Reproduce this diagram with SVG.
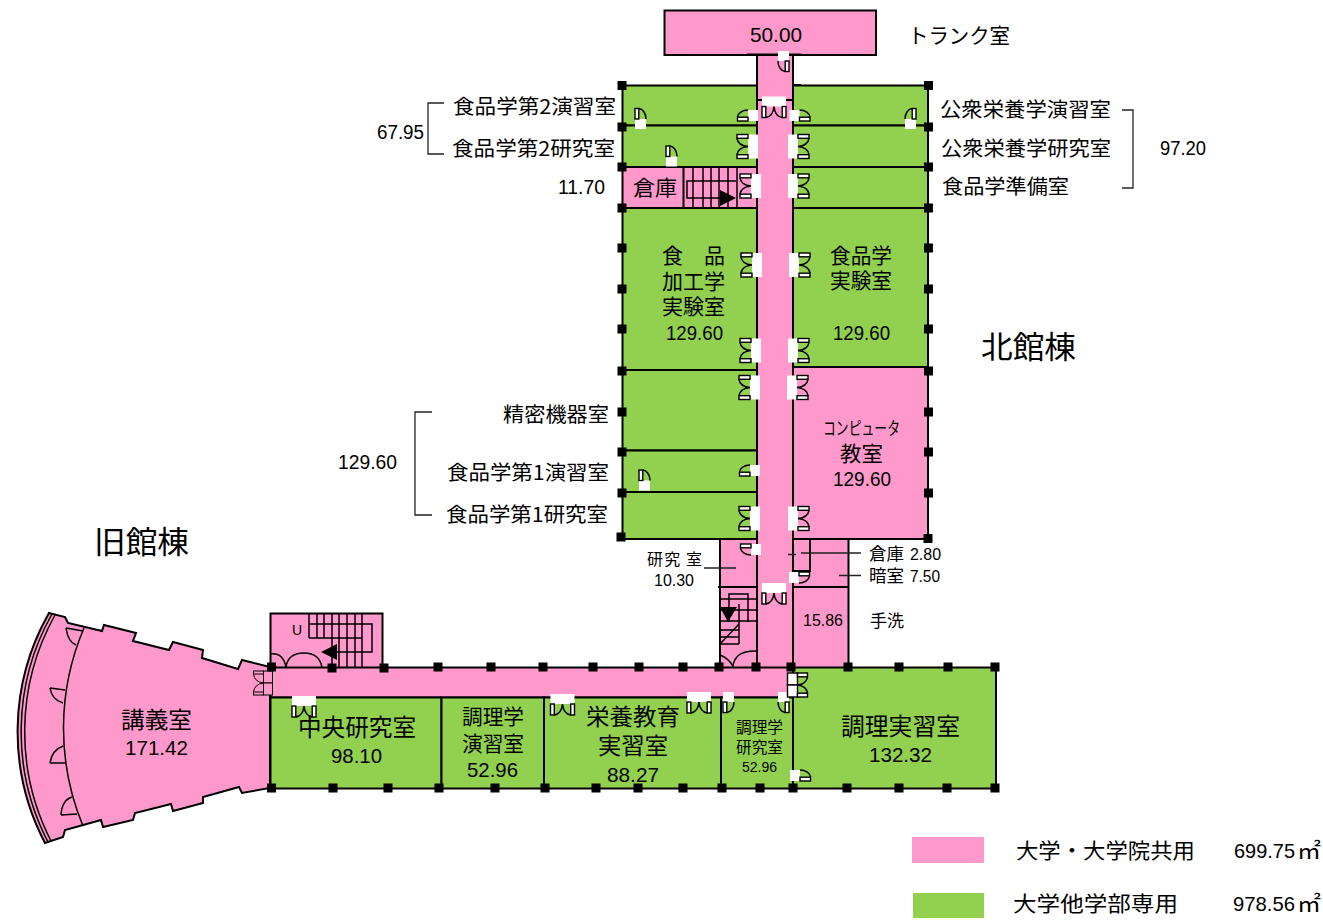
<svg xmlns="http://www.w3.org/2000/svg" width="1323" height="923" viewBox="0 0 1323 923">
<style>
.p{fill:#ff99cc;stroke:#000;stroke-width:2}
.g{fill:#92d050;stroke:#000;stroke-width:2}
.l{fill:none;stroke:#000;stroke-width:2}
.t{fill:none;stroke:#000;stroke-width:1.500}
.c{fill:none;stroke:#222;stroke-width:1.300}
.a{fill:#000;stroke:none}
.w{fill:#fff;stroke:none}
.lf{fill:#fff;stroke:#000;stroke-width:1.400}
.o{fill:none;stroke:#000;stroke-width:1.500}
.pf{fill:#ff99cc;stroke:#000;stroke-width:1}
text{fill:#000;font-family:"Noto Sans CJK JP","Liberation Sans",sans-serif;font-size:20px}
.n{font-family:"Liberation Sans","Noto Sans CJK JP",sans-serif;font-size:21px}
</style>
<defs>
<g id="dd"><rect class="w" x="-5" y="-12" width="10" height="24"/><rect class="lf" x="-16" y="-12" width="11" height="3.800"/><rect class="lf" x="-16" y="8.200" width="11" height="3.800"/><path class="o" d="M-16-8.200Q-15-1-5 0Q-15 1-16 8.200"/></g>
<g id="ddb"><rect class="lf" x="-5" y="-12" width="10" height="12"/><rect class="lf" x="-5" y="0" width="10" height="12"/><rect class="lf" x="-15" y="-12" width="10" height="3.800"/><rect class="lf" x="-15" y="8.200" width="10" height="3.800"/><path class="o" d="M-15-8.200Q-14-1-5 0Q-14 1-15 8.200"/></g>
<g id="ddp"><rect class="pf" x="-5" y="-12" width="9" height="12"/><rect class="pf" x="-5" y="0" width="9" height="12"/><rect class="pf" x="-15" y="-12" width="10" height="3"/><rect class="pf" x="-15" y="9" width="10" height="3"/><path class="o" style="stroke-width:1" d="M-15-9Q-14-1-5 0Q-14 1-15 9"/></g>
<g id="ds"><rect class="w" x="-5" y="-11" width="10" height="11"/><rect class="lf" x="-15.500" y="-3.800" width="10.500" height="3.800"/><path class="o" d="M-15.500-3.800A10.500 7.500 0 0 1-5-11"/></g>
<rect id="q" class="a" x="-4.500" y="-4.500" width="9" height="9"/>
</defs>

<g id="room-trunk"><rect class="p" x="664.500" y="10.500" width="211.500" height="44.500"/><text class="n" x="750" y="42" textLength="52" lengthAdjust="spacingAndGlyphs">50.00</text><text x="908" y="43" style="font-size:21px" textLength="102" lengthAdjust="spacingAndGlyphs">トランク室</text></g>

<g id="room-north-west-1"><rect class="g" x="622.500" y="85.500" width="134.500" height="40"/><text x="453" y="114" textLength="163" lengthAdjust="spacingAndGlyphs">食品学第2演習室</text></g>
<g id="room-north-west-2"><rect class="g" x="622.500" y="125.500" width="134.500" height="41.500"/><text x="452" y="156" textLength="163" lengthAdjust="spacingAndGlyphs">食品学第2研究室</text></g>
<g id="room-storage"><rect class="p" x="622.500" y="167" width="134.500" height="41"/><line class="l" x1="683.500" y1="167" x2="683.500" y2="208"/><text x="633" y="195" style="font-size:21px" textLength="44" lengthAdjust="spacingAndGlyphs">倉庫</text>
<path class="t" d="M693 167V208M703 167V208M711 167V208M719 167V208M728 167V208M737 167V208M736 181H687V198H722"/><path class="a" d="M720 190L736 198L720 206Z"/></g>
<g id="room-north-east-1"><rect class="g" x="793" y="85.500" width="135" height="40"/><text x="940" y="117" textLength="171" lengthAdjust="spacingAndGlyphs">公衆栄養学演習室</text></g>
<g id="room-north-east-2"><rect class="g" x="793" y="125.500" width="135" height="41.500"/><text x="941" y="156" textLength="170" lengthAdjust="spacingAndGlyphs">公衆栄養学研究室</text></g>
<g id="room-north-east-3"><rect class="g" x="793" y="167" width="135" height="41"/><text x="942" y="194" textLength="127" lengthAdjust="spacingAndGlyphs">食品学準備室</text></g>
<g id="room-food-processing"><rect class="g" x="622.500" y="208" width="134.500" height="162"/><text x="662" y="263" style="font-size:21px">食</text><text x="704" y="263" style="font-size:21px">品</text><text x="662" y="289" style="font-size:21px" textLength="63" lengthAdjust="spacingAndGlyphs">加工学</text><text x="662" y="314" style="font-size:21px" textLength="63" lengthAdjust="spacingAndGlyphs">実験室</text><text class="n" x="666" y="340" textLength="57" lengthAdjust="spacingAndGlyphs">129.60</text></g>
<g id="room-food-lab"><rect class="g" x="793" y="208" width="135" height="159"/><text x="830" y="263" style="font-size:21px" textLength="62" lengthAdjust="spacingAndGlyphs">食品学</text><text x="830" y="288" style="font-size:21px" textLength="62" lengthAdjust="spacingAndGlyphs">実験室</text><text class="n" x="833" y="340" textLength="57" lengthAdjust="spacingAndGlyphs">129.60</text></g>
<g id="room-precision"><rect class="g" x="622.500" y="370" width="134.500" height="80.500"/><text x="503" y="422" textLength="106" lengthAdjust="spacingAndGlyphs">精密機器室</text></g>
<g id="room-seminar-1"><rect class="g" x="622.500" y="450.500" width="134.500" height="41.500"/><text x="447" y="480" textLength="162" lengthAdjust="spacingAndGlyphs">食品学第1演習室</text></g>
<g id="room-research-1"><rect class="g" x="622.500" y="492" width="134.500" height="47"/><text x="446" y="522" textLength="162" lengthAdjust="spacingAndGlyphs">食品学第1研究室</text></g>
<g id="room-computer"><rect class="p" x="793" y="367" width="135" height="172"/><text x="823" y="435" style="font-size:18px" textLength="77" lengthAdjust="spacingAndGlyphs">コンピュータ</text><text x="840" y="461" style="font-size:21px" textLength="43" lengthAdjust="spacingAndGlyphs">教室</text><text class="n" x="833" y="486" textLength="58" lengthAdjust="spacingAndGlyphs">129.60</text></g>

<g id="room-south-block"><rect class="p" x="720" y="539" width="37" height="129"/><rect class="p" x="793" y="539" width="55.500" height="129"/><path class="l" d="M718 587H757M793 587H849M793 539V587M810 539V571H793"/>
<text x="647" y="565" style="font-size:16px" textLength="55" lengthAdjust="spacing">研究 室</text><text class="n" x="654" y="586" style="font-size:17px" textLength="40" lengthAdjust="spacingAndGlyphs">10.30</text><text x="869" y="560" style="font-size:17px" textLength="35" lengthAdjust="spacingAndGlyphs">倉庫</text><text class="n" x="910" y="560" style="font-size:17px" textLength="31" lengthAdjust="spacingAndGlyphs">2.80</text><text x="869" y="582" style="font-size:17px" textLength="35" lengthAdjust="spacingAndGlyphs">暗室</text><text class="n" x="910" y="582" style="font-size:17px" textLength="30" lengthAdjust="spacingAndGlyphs">7.50</text><text class="n" x="803" y="626" style="font-size:17px" textLength="40" lengthAdjust="spacingAndGlyphs">15.86</text><text x="870" y="627" style="font-size:17px" textLength="34" lengthAdjust="spacingAndGlyphs">手洗</text>
<path class="t" d="M729 604V594H748V622M729 604V622M739 604V644M720 599H757M720 610H757M720 621H757M720 630H739M720 637H739M720 644H739M720 644L739 624"/><path class="a" d="M720 607H737L728 622Z"/><path class="t" d="M720 655Q728 658 733 666Q735 650 757 651"/></g>

<g id="room-corridor-north"><rect class="p" x="757" y="55" width="36" height="613"/><path class="l" d="M747 54.500H801M757 100H762M786 100H793M793 85H801"/></g>

<g id="room-stair-west"><rect class="p" x="270.500" y="613.500" width="112" height="54.500"/><text class="n" x="292" y="635" style="font-size:14px">U</text><path class="t" d="M309 613V638M317 613V638M324 613V638M332 613V668M339 613V668M347 613V668M355 613V668M362 613V668M309 624H372V652H325M309 638H362"/><path class="a" d="M321 652L337 644V660Z"/><path class="t" d="M270 654Q283 652 286 667Q288 653 304 653Q320 653 322 668"/></g>

<g id="room-lecture"><path class="p" d="M49 613L65 617L68 623L102 631L104 625L136 633L133 641L169 650L173 642L203 650L202 658L238 669L242 660L270 667V788L242 793L239 787L203 797L203 803L173 811L171 804L135 813L133 820L103 827L101 820L65 830L63 837L45 843A240 240 0 0 1 49 613Z"/><path class="t" d="M52 614A240 240 0 0 0 48 842M55 615A240 240 0 0 0 51 841M84 628A255 255 0 0 0 83 826M66 628L83 631M66 628Q68 642 76 645M50 688L65 690M50 688Q52 700 63 703M50 763H66M50 763Q52 750 63 746M61 815L77 814M61 815Q62 800 72 797"/><text x="121" y="728" style="font-size:23px" textLength="71" lengthAdjust="spacingAndGlyphs">講義室</text><text class="n" x="125" y="755" textLength="63" lengthAdjust="spacingAndGlyphs">171.42</text></g>

<g id="room-corridor-west"><rect class="p" x="270.500" y="667.500" width="522.500" height="30"/></g>
<g id="room-central-research"><rect class="g" x="270.500" y="697.500" width="171" height="91"/><text x="298" y="736" style="font-size:24px" textLength="118" lengthAdjust="spacingAndGlyphs">中央研究室</text><text class="n" x="331" y="763" textLength="51" lengthAdjust="spacingAndGlyphs">98.10</text></g>
<g id="room-cooking-seminar"><rect class="g" x="441.500" y="697.500" width="102.500" height="91"/><text x="462" y="724" style="font-size:21px" textLength="62" lengthAdjust="spacingAndGlyphs">調理学</text><text x="462" y="751" style="font-size:21px" textLength="62" lengthAdjust="spacingAndGlyphs">演習室</text><text class="n" x="467" y="777" textLength="51" lengthAdjust="spacingAndGlyphs">52.96</text></g>
<g id="room-nutrition"><rect class="g" x="544" y="697.500" width="177" height="91"/><text x="586" y="725" style="font-size:23px" textLength="94" lengthAdjust="spacingAndGlyphs">栄養教育</text><text x="598" y="754" style="font-size:23px" textLength="70" lengthAdjust="spacingAndGlyphs">実習室</text><text class="n" x="607" y="782" textLength="52" lengthAdjust="spacingAndGlyphs">88.27</text></g>
<g id="room-cooking-research"><rect class="g" x="721" y="697.500" width="72" height="91"/><text x="736" y="733" style="font-size:15.500px" textLength="47" lengthAdjust="spacingAndGlyphs">調理学</text><text x="736" y="753" style="font-size:15.500px" textLength="47" lengthAdjust="spacingAndGlyphs">研究室</text><text class="n" x="742" y="772" style="font-size:15px" textLength="35" lengthAdjust="spacingAndGlyphs">52.96</text></g>
<g id="room-cooking-practice"><rect class="g" x="793" y="667.500" width="203" height="121"/><text x="841" y="735" style="font-size:24px" textLength="119" lengthAdjust="spacingAndGlyphs">調理実習室</text><text class="n" x="869" y="762" textLength="63" lengthAdjust="spacingAndGlyphs">132.32</text></g>

<g id="doors">
<use href="#dd" transform="translate(753,146.500)"/><use href="#dd" transform="translate(756,186)"/><use href="#dd" transform="translate(757,265)"/><use href="#dd" transform="translate(756,350.500)"/><use href="#dd" transform="translate(755,387.500)"/><use href="#dd" transform="translate(755,518.500)"/>
<use href="#dd" transform="translate(793,146.500) scale(-1,1)"/><use href="#dd" transform="translate(793,186) scale(-1,1)"/><use href="#dd" transform="translate(794,265) scale(-1,1)"/><use href="#dd" transform="translate(793,350.500) scale(-1,1)"/><use href="#dd" transform="translate(792,387.500) scale(-1,1)"/><use href="#dd" transform="translate(793,518.500) scale(-1,1)"/>
<use href="#dd" transform="translate(774,101.500) rotate(-90)"/><use href="#dd" transform="translate(774,588) rotate(-90)"/><use href="#dd" transform="translate(304,701) rotate(-90)"/><use href="#dd" transform="translate(562.500,699) rotate(-90)"/><use href="#dd" transform="translate(699,697) rotate(-90)"/>
<use href="#ds" transform="translate(753,121)"/><use href="#ds" transform="translate(794.500,121) scale(-1,1)"/><use href="#ds" transform="translate(755,476)"/><use href="#ds" transform="translate(756,544) scale(1,-1)"/><use href="#ds" transform="translate(794,572) scale(-1,-1)"/><use href="#ds" transform="translate(795,781) scale(-1,1)"/>
<use href="#ds" transform="translate(635,124) rotate(90)"/><use href="#ds" transform="translate(916,124) scale(-1,1) rotate(90)"/><use href="#ds" transform="translate(666,161.500) rotate(90)"/><use href="#ds" transform="translate(639,485.500) rotate(90)"/>
<use href="#ds" transform="translate(789,56) rotate(-90)"/><use href="#ds" transform="translate(723,697) scale(-1,1) rotate(-90)"/><use href="#ds" transform="translate(789,697) rotate(-90)"/>
<use href="#ddb" transform="translate(792.500,685) scale(-1,1)"/><use href="#ddp" transform="translate(268.500,683)"/>
</g>

<g id="pillars">
<use href="#q" x="622" y="85.500"/><use href="#q" x="622" y="127"/><use href="#q" x="622" y="167"/><use href="#q" x="622" y="208"/><use href="#q" x="622" y="248"/><use href="#q" x="622" y="289"/><use href="#q" x="622" y="329"/><use href="#q" x="622" y="371"/><use href="#q" x="622" y="412"/><use href="#q" x="622" y="452"/><use href="#q" x="622" y="493"/><use href="#q" x="621" y="537"/>
<use href="#q" x="928.500" y="85.500"/><use href="#q" x="928.500" y="127"/><use href="#q" x="928.500" y="167"/><use href="#q" x="928.500" y="208"/><use href="#q" x="928.500" y="248"/><use href="#q" x="928.500" y="289"/><use href="#q" x="928.500" y="329"/><use href="#q" x="928.500" y="371"/><use href="#q" x="928.500" y="412"/><use href="#q" x="928.500" y="452"/><use href="#q" x="928.500" y="493"/><use href="#q" x="928" y="538.500"/>
<use href="#q" x="271.500" y="667"/><use href="#q" x="332" y="668"/><use href="#q" x="384" y="668"/><use href="#q" x="438" y="667"/><use href="#q" x="491" y="667"/><use href="#q" x="543" y="667"/><use href="#q" x="593" y="667"/><use href="#q" x="639" y="667"/><use href="#q" x="683" y="667"/><use href="#q" x="719" y="667"/><use href="#q" x="756" y="667"/><use href="#q" x="791" y="667"/><use href="#q" x="848" y="667"/><use href="#q" x="899" y="667"/><use href="#q" x="948" y="667"/><use href="#q" x="995" y="667"/>
<use href="#q" x="271.500" y="788"/><use href="#q" x="333" y="788"/><use href="#q" x="388" y="788"/><use href="#q" x="439" y="788"/><use href="#q" x="495" y="788"/><use href="#q" x="545" y="788"/><use href="#q" x="596" y="788"/><use href="#q" x="638" y="788"/><use href="#q" x="683" y="788"/><use href="#q" x="722" y="788"/><use href="#q" x="760" y="788"/><use href="#q" x="793" y="788"/><use href="#q" x="847" y="788"/><use href="#q" x="899" y="788"/><use href="#q" x="947" y="788"/><use href="#q" x="995" y="788"/>
</g>

<g id="connectors">
<path class="c" d="M444 103H428V154H444"/><path class="c" d="M1122 110H1133V188H1122"/><path class="c" d="M432 412H415V515H432"/>
<path class="c" d="M704 568H736M801 553H861M788 554.500H796M839 575.500H861"/>
</g>

<g id="area-labels">
<text class="n" x="377" y="139" style="font-size:20px" textLength="47" lengthAdjust="spacingAndGlyphs">67.95</text>
<text class="n" x="558" y="194" style="font-size:20px" textLength="47" lengthAdjust="spacingAndGlyphs">11.70</text>
<text class="n" x="1160" y="155" style="font-size:20px" textLength="46" lengthAdjust="spacingAndGlyphs">97.20</text>
<text class="n" x="338" y="469" style="font-size:20px" textLength="59" lengthAdjust="spacingAndGlyphs">129.60</text>
<text x="981" y="358" style="font-size:31px" textLength="95" lengthAdjust="spacingAndGlyphs">北館棟</text>
<text x="94" y="553" style="font-size:31px" textLength="95" lengthAdjust="spacingAndGlyphs">旧館棟</text>
</g>

<g id="legend">
<rect x="912" y="837" width="72" height="26" fill="#ff99cc"/><rect x="913" y="893" width="71" height="25" fill="#92d050"/>
<text x="1016" y="858" style="font-size:21px" textLength="179" lengthAdjust="spacingAndGlyphs">大学・大学院共用</text>
<text class="n" x="1234" y="858" textLength="61" lengthAdjust="spacingAndGlyphs">699.75</text>
<text x="1297" y="858" style="font-size:21px" textLength="24" lengthAdjust="spacingAndGlyphs">㎡</text>
<text x="1013" y="911" style="font-size:21px" textLength="165" lengthAdjust="spacingAndGlyphs">大学他学部専用</text>
<text class="n" x="1233" y="911" textLength="62" lengthAdjust="spacingAndGlyphs">978.56</text>
<text x="1297" y="911" style="font-size:21px" textLength="24" lengthAdjust="spacingAndGlyphs">㎡</text>
</g>
</svg>
